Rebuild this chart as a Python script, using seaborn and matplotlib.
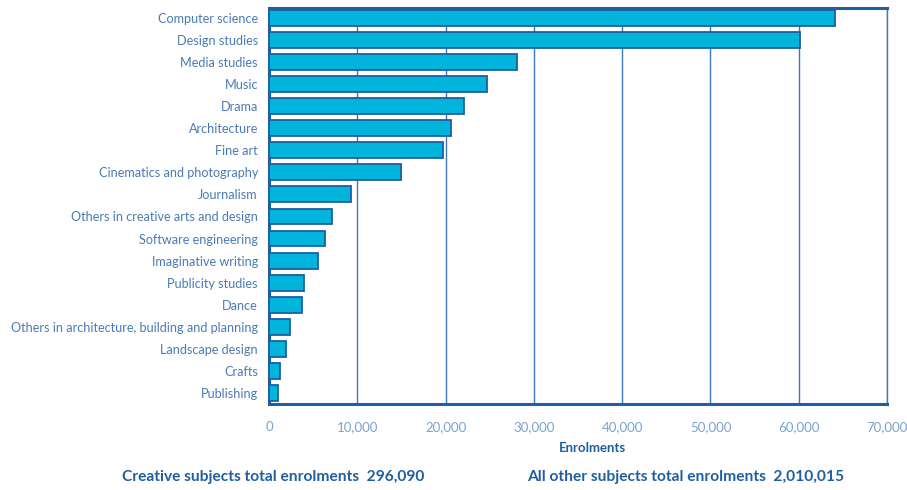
import pandas as pd
import matplotlib.pyplot as plt
import matplotlib.ticker as mticker
import seaborn as sns

# -----------------------------
# Data
# -----------------------------
subjects = [
    "Computer science", "Design studies", "Media studies", "Music", "Drama",
    "Architecture", "Fine art", "Cinematics and photography", "Journalism",
    "Others in creative arts and design", "Software engineering",
    "Imaginative writing", "Publicity studies", "Dance",
    "Others in architecture, building and planning", "Landscape design",
    "Crafts", "Publishing",
]
enrolments = [
    64100, 60100, 28100, 24700, 22100, 20600, 19700, 15000, 9300,
    7100, 6300, 5500, 4000, 3700, 2400, 1900, 1300, 1000,
]
x_ticks = [0, 10000, 20000, 30000, 40000, 50000, 60000, 70000]
footer_left = "Creative subjects total enrolments  296,090"
footer_right = "All other subjects total enrolments  2,010,015"

df = pd.DataFrame({"subject": subjects, "enrolments": enrolments})

# colours
bar_col = "#00B4DC"
edge_col = "#1F5FA0"
grid_col = "#3F78B4"
label_col = "#4A7AB5"
tick_col = "#7BA3D0"

sns.set_style("white")
plt.rcParams["font.family"] = ["Lato", "DejaVu Sans"]

fig = plt.figure(figsize=(9.07, 4.9), dpi=100)
ax = fig.add_axes([0.2966, 0.1755, 0.6814, 0.8082])

sns.barplot(data=df, x="enrolments", y="subject", orient="h",
            color=bar_col, saturation=1, width=0.72,
            edgecolor=edge_col, linewidth=1.3, ax=ax, zorder=3)

ax.set_xlim(0, 70000)
ax.set_ylim(len(subjects) - 0.5, -0.45)
ax.set_xticks(x_ticks)
ax.xaxis.set_major_formatter(mticker.FuncFormatter(lambda v, p: f"{int(v):,}"))
ax.grid(axis="x", color=grid_col, linewidth=1.0, zorder=0)
ax.set_axisbelow(True)

ax.tick_params(axis="y", length=0, pad=8, labelsize=9.1, labelcolor=label_col)
ax.tick_params(axis="x", length=0, pad=12, labelsize=9.5, labelcolor=tick_col)

for side in ["left", "top", "bottom"]:
    ax.spines[side].set_color(edge_col)
    ax.spines[side].set_linewidth(2.2)
ax.spines["right"].set_color(grid_col)
ax.spines["right"].set_linewidth(1.0)

ax.set_ylabel("")
ax.set_xlabel("Enrolments", fontsize=9.5, fontweight="bold", color=edge_col)
ax.xaxis.set_label_coords(0.523, -0.097)

fig.text(0.135, 0.018, footer_left, fontsize=11.2, fontweight="bold", color=edge_col)
fig.text(0.581, 0.018, footer_right, fontsize=11.2, fontweight="bold", color=edge_col)

plt.savefig("out.png", dpi=100)
